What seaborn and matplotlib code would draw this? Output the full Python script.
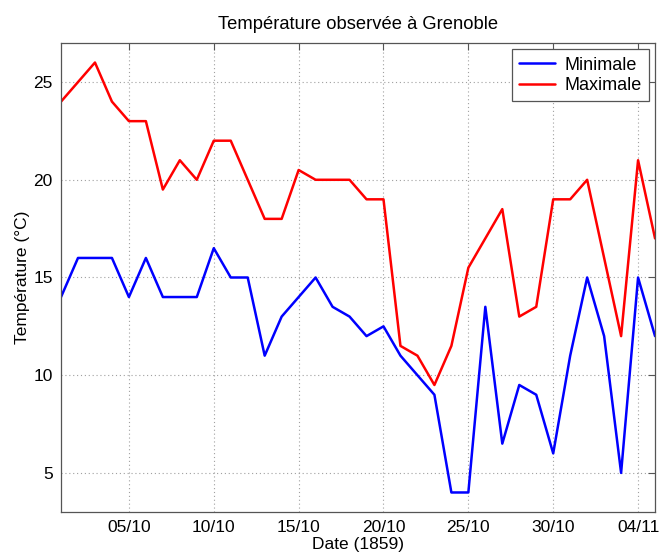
import matplotlib
matplotlib.use("Agg")
import matplotlib.pyplot as plt
import matplotlib.dates as mdates
import numpy as np
import pandas as pd
import seaborn as sns

# Relevés quotidiens, Grenoble, du 1er octobre au 5 novembre 1859
dates = pd.date_range("1859-10-01", "1859-11-05", freq="D")
t_min = [14, 16, 16, 16, 14, 16, 14, 14, 14, 16.5, 15, 15, 11, 13, 14, 15, 13.5, 13,
         12, 12.5, 11, 10, 9, 4, 4, 13.5, 6.5, 9.5, 9, 6, 11, 15, 12, 5, 15, 12]
t_max = [24, 25, 26, 24, 23, 23, 19.5, 21, 20, 22, 22, 20, 18, 18, 20.5, 20, 20, 20,
         19, 19, 11.5, 11, 9.5, 11.5, 15.5, 17, 18.5, 13, 13.5, 19, 19, 20, 16, 12, 21, 17]
x_ticks = ["1859-10-05", "1859-10-10", "1859-10-15", "1859-10-20",
           "1859-10-25", "1859-10-30", "1859-11-04"]
y_ticks = [5, 10, 15, 20, 25]

df = pd.DataFrame({"Date": dates, "Minimale": t_min, "Maximale": t_max})
long = df.melt(id_vars="Date", var_name="Série", value_name="Température")

sns.set_style("white")
plt.rcParams["font.family"] = ["Liberation Sans", "DejaVu Sans"]
plt.rcParams["text.color"] = "black"
plt.rcParams["axes.labelcolor"] = "black"
plt.rcParams["xtick.color"] = "black"
plt.rcParams["ytick.color"] = "black"

fig = plt.figure(figsize=(6.59, 5.56), dpi=100)
ax = fig.add_axes([0.0926, 0.0791, 0.9014, 0.8436])

sns.lineplot(data=long, x="Date", y="Température", hue="Série",
             palette={"Minimale": "#0000ff", "Maximale": "#ff0000"},
             linewidth=1.8, ax=ax, legend=True)

ax.set_xlim(dates[0], dates[-1])
ax.set_ylim(3, 27)
ax.set_xticks(pd.to_datetime(x_ticks))
ax.xaxis.set_major_formatter(mdates.DateFormatter("%d/%m"))
ax.set_yticks(y_ticks)

ax.grid(True, color="#a0a0a0", linestyle=(0, (1, 2.5)), linewidth=0.8)
for s in ax.spines.values():
    s.set_color("#555555")
    s.set_linewidth(0.9)
ax.tick_params(direction="in", length=5, width=0.8, color="#555555",
               labelcolor="black", top=True, right=True, labelsize=12.5, pad=6)

ax.set_title("Température observée à Grenoble", fontsize=13.2, pad=10, color="black")
ax.set_xlabel("Date (1859)", fontsize=12.5, labelpad=1, color="black")
ax.set_ylabel("Température (°C)", fontsize=12.5, labelpad=2, color="black")

leg = ax.legend(loc="upper right", fontsize=13, frameon=True, fancybox=False,
                framealpha=1, edgecolor="#555555", handlelength=2.0,
                borderaxespad=0.35, labelspacing=0.2, borderpad=0.4,
                handletextpad=0.5)
leg.get_frame().set_linewidth(0.9)
for line in leg.get_lines():
    line.set_linewidth(1.8)

fig.savefig("out.png", dpi=100)
